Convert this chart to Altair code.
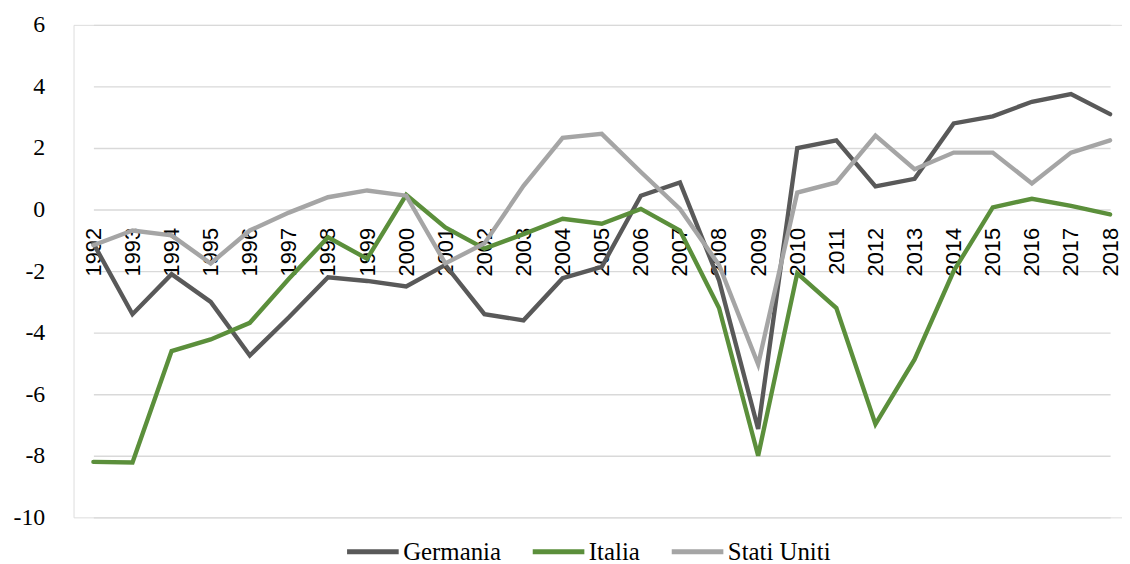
import altair as alt
import pandas as pd

years = [str(y) for y in range(1992, 2019)]
germania = [-1.1, -3.4, -2.1, -3.0, -4.74, -3.5, -2.2, -2.32, -2.5, -1.8, -3.4, -3.6, -2.23, -1.86,
            0.45, 0.88, -2.3, -7.13, 2.0, 2.25, 0.75, 1.0, 2.8, 3.03, 3.5, 3.75, 3.1]
italia = [-8.2, -8.22, -4.6, -4.22, -3.68, -2.25, -0.9, -1.6, 0.48, -0.58, -1.27, -0.8, -0.3, -0.46,
          0.02, -0.68, -3.2, -8.0, -2.07, -3.2, -6.97, -4.87, -2.0, 0.07, 0.35, 0.12, -0.16]
stati_uniti = [-1.16, -0.68, -0.84, -1.75, -0.68, -0.1, 0.4, 0.62, 0.45, -1.75, -1.1, 0.77, 2.33,
               2.46, 1.22, 0.02, -1.8, -5.03, 0.55, 0.88, 2.4, 1.31, 1.85, 1.85, 0.85, 1.85, 2.25]

series_names = ["Germania", "Italia", "Stati Uniti"]
series_colors = ["#595959", "#5B8F3B", "#A5A5A5"]

rows = []
for name, vals in zip(series_names, [germania, italia, stati_uniti]):
    for i, (y, v) in enumerate(zip(years, vals)):
        rows.append({"anno": y, "valore": v, "serie": name, "ordine": i})
df = pd.DataFrame(rows)

chart = alt.Chart(df).mark_line(strokeWidth=4.4, strokeJoin="miter", strokeCap="round").encode(
    x=alt.X("anno:O", sort=years,
            scale=alt.Scale(type="point", range=[20, 1044], padding=0),
            axis=alt.Axis(title=None, labelAngle=-90, labelFont="Liberation Sans", labelFontSize=22,
                          labelColor="#000000", ticks=False, tickSize=0, domain=False,
                          labelPadding=18, offset=-310, labelOverlap=False, grid=False)),
    y=alt.Y("valore:Q",
            scale=alt.Scale(domain=[-10, 6], nice=False, zero=False),
            axis=alt.Axis(title=None, values=[-10, -8, -6, -4, -2, 0, 2, 4, 6],
                          labelExpr="datum.value < 0 ? '-' + abs(datum.value) : '' + datum.value",
                          labelFont="Liberation Serif", labelFontSize=24, labelColor="#000000",
                          ticks=False, domain=False, labelPadding=29,
                          grid=True, gridColor="#d9d9d9", gridWidth=1.4)),
    color=alt.Color("serie:N",
                    scale=alt.Scale(domain=series_names, range=series_colors),
                    legend=alt.Legend(title=None, orient="none", direction="horizontal",
                                      legendX=286, legendY=515, padding=0,
                                      symbolType="M-2,0H2", symbolSize=676, symbolStrokeWidth=5,
                                      labelFont="Liberation Serif", labelFontSize=25,
                                      labelColor="#000000", labelOffset=15, columnPadding=21,
                                      labelLimit=300)),
    order=alt.Order("ordine:Q"),
).properties(
    width=1056, height=496,
    autosize=alt.AutoSizeParams(type="none"),
    padding={"left": 66, "top": 15, "right": 0, "bottom": 45},
).configure_view(stroke=None).configure(background="#ffffff")

chart.save("out.html", embed_options={"renderer": "svg", "actions": False})
